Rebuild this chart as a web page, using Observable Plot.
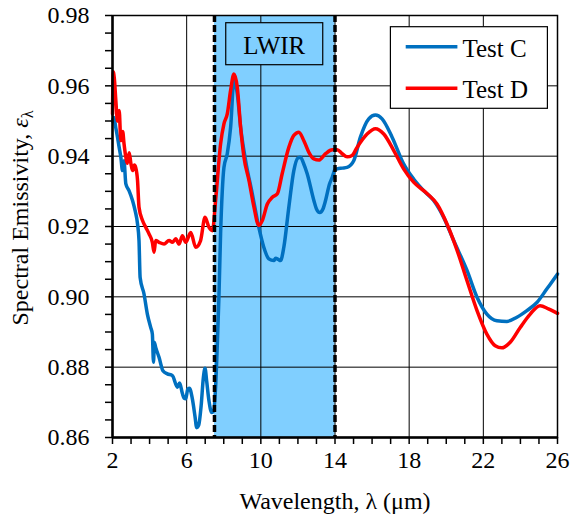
<!DOCTYPE html>
<html><head><meta charset="utf-8">
<script src="https://cdn.jsdelivr.net/npm/d3@7"></script>
<script src="https://cdn.jsdelivr.net/npm/@observablehq/plot@0.6"></script>
<style>
body{margin:0;background:#fff}
svg text, svg tspan { font-family: "Liberation Serif", "Times New Roman", Tinos, "DejaVu Serif", serif !important; }
</style>
</head><body><div id="chart"></div>
<script>
// Test C (blue)
const wavelengthC = [2.0,2.08,2.18,2.27,2.36,2.45,2.54,2.62,2.72,2.89,3.08,3.22,3.35,3.43,3.49,3.7,3.88,4.06,4.15,4.21,4.26,4.33,4.51,4.72,4.96,5.23,5.5,5.62,5.77,5.86,5.95,6.06,6.15,6.3,6.45,6.54,6.65,6.78,6.9,6.99,7.08,7.2,7.35,7.45,7.56,7.65,7.74,7.83,7.92,8.01,8.19,8.37,8.55,8.73,8.91,9.18,9.54,9.89,10.16,10.43,10.7,10.8,10.95,11.06,11.24,11.51,11.78,12.0,12.14,12.3,12.5,12.86,13.0,13.18,13.35,13.49,13.7,13.85,14.0,14.12,14.4,14.65,15.01,15.37,15.82,16.18,16.54,17.08,17.7,18.24,18.78,19.32,19.86,20.4,21.12,21.66,22.19,22.73,23.27,23.81,24.35,24.89,25.42,26.0];
const emissivityC = [0.950,0.951,0.948,0.9454,0.9425,0.9397,0.9359,0.9387,0.9321,0.9302,0.9274,0.9245,0.9207,0.916,0.9055,0.9008,0.8951,0.8913,0.8894,0.8814,0.887,0.8856,0.8828,0.879,0.8781,0.8776,0.8743,0.8755,0.8725,0.8712,0.871,0.8738,0.874,0.8712,0.866,0.8628,0.8635,0.869,0.877,0.8797,0.876,0.8705,0.8671,0.8675,0.8743,0.886,0.900,0.918,0.930,0.9368,0.9407,0.9482,0.9615,0.9577,0.9482,0.9387,0.9293,0.9198,0.9141,0.9108,0.9103,0.911,0.9106,0.9103,0.9141,0.9255,0.9359,0.9395,0.9397,0.938,0.935,0.9274,0.925,0.924,0.925,0.9274,0.932,0.934,0.9362,0.9364,0.9366,0.9368,0.9387,0.9454,0.9506,0.9517,0.9506,0.9454,0.9378,0.9335,0.9302,0.9274,0.9226,0.916,0.9075,0.8999,0.8951,0.8932,0.893,0.8942,0.8961,0.8984,0.9022,0.9065];
// Test D (red)
const wavelengthD = [2.0,2.04,2.1,2.18,2.27,2.36,2.45,2.55,2.62,2.72,2.8,2.9,2.99,3.08,3.18,3.25,3.35,3.43,3.62,3.79,3.97,4.15,4.24,4.33,4.51,4.78,5.05,5.23,5.41,5.59,5.77,5.95,6.22,6.49,6.75,6.99,7.2,7.39,7.56,7.83,8.01,8.19,8.37,8.55,8.73,8.91,9.09,9.36,9.63,9.89,10.08,10.35,10.62,10.89,11.15,11.51,11.78,12.05,12.32,12.59,12.86,13.13,13.49,13.85,14.12,14.39,14.65,14.92,15.19,15.73,16.18,16.63,17.17,17.7,18.24,18.96,19.5,20.04,20.58,21.12,21.66,22.19,22.64,23.0,23.45,23.99,24.53,25.06,25.51,26.0];
const emissivityD = [0.952,0.964,0.962,0.9558,0.950,0.953,0.9444,0.947,0.9436,0.9397,0.938,0.941,0.938,0.9359,0.9375,0.9368,0.9331,0.9255,0.9217,0.9198,0.9179,0.9155,0.9127,0.916,0.9155,0.915,0.916,0.9155,0.9165,0.915,0.9174,0.9155,0.9183,0.9141,0.916,0.9226,0.9198,0.9188,0.9274,0.9435,0.9492,0.952,0.9587,0.9634,0.9596,0.9482,0.9397,0.9331,0.9255,0.9203,0.9217,0.9264,0.9283,0.9293,0.935,0.9425,0.9459,0.9468,0.9444,0.9411,0.9392,0.9389,0.9407,0.9418,0.9418,0.9407,0.9398,0.9402,0.9425,0.9463,0.9478,0.9463,0.9416,0.9364,0.9326,0.9294,0.9264,0.9207,0.9133,0.9046,0.8961,0.8894,0.8861,0.8855,0.8871,0.8913,0.8951,0.8975,0.8966,0.8953];

const seriesNames = ["Test C", "Test D"];
const seriesColors = ["#0070C0", "#FF0000"];
const bandEdges = [7.5, 14];
const bandLabel = "LWIR";
const bandColor = "#80CFFF";
const xDomain = [2, 26];
const yDomain = [0.86, 0.98];
const xTicks = d3.range(2, 27, 1);
const xMajor = d3.range(2, 27, 4);
const yTicks = d3.range(25).map(i => +(0.86 + i * 0.005).toFixed(3));
const yMajor = d3.range(7).map(i => +(0.86 + i * 0.02).toFixed(2));
const xLabel = "Wavelength, λ (μm)";

const dataC = wavelengthC.map((w, i) => ({wavelength: w, emissivity: emissivityC[i]}));
const dataD = wavelengthD.map((w, i) => ({wavelength: w, emissivity: emissivityD[i]}));
const isMajorY = d => Math.round((d - yDomain[0]) / 0.005) % 4 === 0;

const font = "Liberation Serif, Times New Roman, serif";

const chart = Plot.plot({
  width: 576, height: 514,
  marginLeft: 112, marginRight: 19, marginTop: 15, marginBottom: 77,
  style: {fontFamily: font, fontSize: "24px", color: "black", background: "white", overflow: "visible"},
  x: {domain: xDomain},
  y: {domain: yDomain},
  marks: [
    Plot.rect([bandEdges], {x1: d => d[0], x2: d => d[1], fill: bandColor}),
    Plot.gridX(xMajor, {stroke: "black", strokeOpacity: 1, strokeWidth: 1}),
    Plot.gridY(yMajor, {stroke: "black", strokeOpacity: 1, strokeWidth: 1}),
    Plot.line(dataC, {x: "wavelength", y: "emissivity", stroke: seriesColors[0], strokeWidth: 3.5, curve: "monotone-x"}),
    Plot.line(dataD, {x: "wavelength", y: "emissivity", stroke: seriesColors[1], strokeWidth: 3.5, curve: "monotone-x"}),
    Plot.ruleX(bandEdges, {stroke: "black", strokeWidth: 3.5, strokeDasharray: "7,3"}),
    Plot.frame({stroke: "black", strokeWidth: 1.5}),
    Plot.ruleX([xDomain[0]], {stroke: "black", strokeWidth: 2.5}),
    Plot.ruleY([yDomain[0]], {stroke: "black", strokeWidth: 2.5}),
    Plot.axisX(xTicks, {tickSize: 7, tickPadding: 6, strokeWidth: 1.5,
      tickFormat: d => (d - 2) % 4 === 0 ? String(d) : "",
      label: xLabel, labelAnchor: "center", labelArrow: "none", labelOffset: 71}),
    Plot.axisY(yTicks, {tickSize: 7, tickPadding: 16, strokeWidth: 1.5,
      tickFormat: d => isMajorY(d) ? d.toFixed(2) : "", label: null})
  ]
});
document.getElementById("chart").append(chart);

const svg = d3.select(chart);
const xs = chart.scale("x"), ys = chart.scale("y");

// LWIR annotation box centred on the band
const cx = xs.apply(d3.mean(bandEdges));
const frameTop = ys.apply(yDomain[1]);
svg.append("rect").attr("x", cx - 48.5).attr("y", frameTop + 7.7).attr("width", 97).attr("height", 42)
  .attr("fill", bandColor).attr("stroke", "black").attr("stroke-width", 1.2);
svg.append("text").attr("x", cx).attr("y", frameTop + 38.5).attr("text-anchor", "middle")
  .attr("font-size", 25).attr("fill", "black").text(bandLabel);

// Legend
const frameRight = xs.apply(xDomain[1]);
const lx = frameRight - 166.6, ly = frameTop + 11.7;
svg.append("rect").attr("x", lx).attr("y", ly).attr("width", 157).attr("height", 81.6)
  .attr("fill", "white").attr("stroke", "black").attr("stroke-width", 1.2);
seriesNames.forEach((name, i) => {
  const yy = ly + 20 + i * 41.6;
  svg.append("line").attr("x1", lx + 15.3).attr("x2", lx + 67).attr("y1", yy).attr("y2", yy)
    .attr("stroke", seriesColors[i]).attr("stroke-width", 3.5);
  svg.append("text").attr("x", lx + 72).attr("y", yy + 10).attr("text-anchor", "start")
    .attr("font-size", 25).attr("fill", "black").text(name);
});

// Y axis label with italic epsilon and subscript lambda
const yl = svg.append("text").attr("transform", `translate(28,${(ys.apply(yDomain[0]) + frameTop) / 2 - 8}) rotate(-90)`)
  .attr("text-anchor", "middle").attr("font-size", 24).attr("fill", "black");
yl.append("tspan").text("Spectral Emissivity, ");
yl.append("tspan").attr("font-style", "italic").text("ε");
yl.append("tspan").attr("font-size", 16).attr("dy", 5).text("λ");
</script>
</body></html>
